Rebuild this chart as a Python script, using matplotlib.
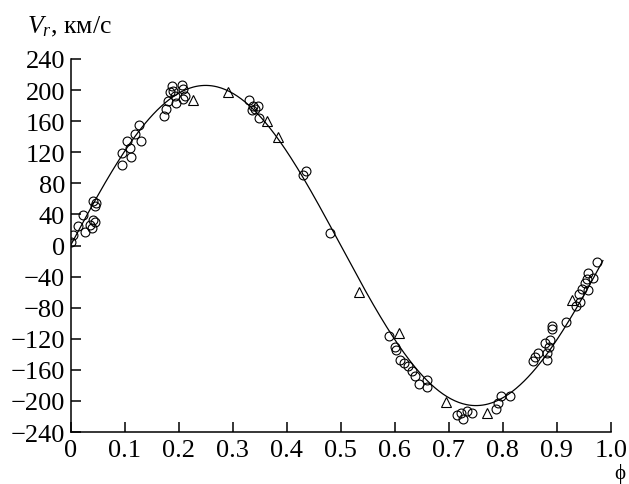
import numpy as np
import matplotlib
matplotlib.use("Agg")
import matplotlib.pyplot as plt

plt.rcParams['font.family'] = ['Liberation Serif', 'DejaVu Serif']
plt.rcParams['mathtext.fontset'] = 'custom'
plt.rcParams['mathtext.rm'] = 'Liberation Serif'
plt.rcParams['mathtext.it'] = 'Liberation Serif:italic'

# кривая лучевых скоростей: полуамплитуда и гамма-скорость
K = 206.0
gamma = 0.0

# наблюдения (кружки)
phase_circ = [0.000, 0.005, 0.014, 0.023, 0.027, 0.036, 0.039, 0.042, 0.045,
              0.042, 0.048, 0.045, 0.095, 0.095, 0.104, 0.110, 0.112, 0.119,
              0.127, 0.130, 0.173, 0.177, 0.181, 0.187, 0.190, 0.193, 0.196,
              0.206, 0.209, 0.212, 0.208, 0.184, 0.331, 0.338, 0.346, 0.335,
              0.341, 0.349, 0.431, 0.436, 0.480, 0.590, 0.600, 0.603, 0.610,
              0.617, 0.625, 0.631, 0.637, 0.645, 0.659, 0.660, 0.715, 0.727,
              0.722, 0.733, 0.742, 0.787, 0.791, 0.796, 0.813, 0.856, 0.859,
              0.865, 0.881, 0.882, 0.878, 0.886, 0.888, 0.890, 0.890, 0.917,
              0.935, 0.943, 0.940, 0.946, 0.952, 0.958, 0.955, 0.958, 0.967,
              0.974]
vr_circ = [4, 14, 25, 39, 18, 27, 23, 33, 30,
           57, 55, 51, 104, 119, 134, 125, 114, 143,
           155, 134, 167, 176, 186, 205, 199, 192, 183,
           207, 201, 193, 188, 197, 187, 179, 179, 175,
           176, 164, 91, 96, 16, -116, -130, -134, -147,
           -151, -155, -162, -168, -178, -173, -182, -218, -223,
           -215, -213, -216, -210, -203, -194, -194, -149, -143,
           -138, -147, -138, -125, -130, -121, -107, -103, -99,
           -78, -73, -63, -56, -48, -57, -43, -35, -42,
           -21]

# наблюдения (треугольники)
phase_tri = [0.227, 0.292, 0.364, 0.384, 0.534, 0.607, 0.694, 0.770, 0.927]
vr_tri = [187, 197, 160, 139, -60, -112, -201, -216, -70]

fig = plt.figure(figsize=(6.29, 4.85), dpi=100)
ax = fig.add_axes([0.1121, 0.1072, 0.8593, 0.7691])

ph = np.linspace(0.0, 0.985, 400)
ax.plot(ph, gamma + K * np.sin(2 * np.pi * ph), color='black', lw=0.9, zorder=2)

ax.plot(phase_circ, vr_circ, 'o', ms=6.4, mfc='none', mec='black', mew=0.8, zorder=3)
ax.plot(phase_tri, vr_tri, '^', ms=7.5, mfc='none', mec='black', mew=0.8, zorder=3)

ax.set_xlim(0, 1.0)
ax.set_ylim(-240, 240)
ax.set_xticks(np.arange(0, 1.01, 0.1))
ax.set_xticklabels(['0', '0.1', '0.2', '0.3', '0.4', '0.5', '0.6', '0.7', '0.8', '0.9', '1.0'])
ax.set_yticks(np.arange(-240, 241, 40))
ax.set_yticklabels([str(v).replace('-', '\u2212') for v in range(-240, 241, 40)])

for s in ['top', 'right']:
    ax.spines[s].set_visible(False)
for s in ['left', 'bottom']:
    ax.spines[s].set_linewidth(1.1)
ax.tick_params(direction='in', length=7, width=1.1, labelsize=19, pad=4)
ax.tick_params(axis='x', pad=5)

fig.text(27 / 629, 1 - 33 / 485, r'$V_r$, км/с', fontsize=18.5, va='baseline', ha='left')
fig.text(620 / 629, 1 - 484 / 485, '\u03d5', fontsize=15, va='bottom', ha='center')

fig.savefig('out.png', dpi=100)
